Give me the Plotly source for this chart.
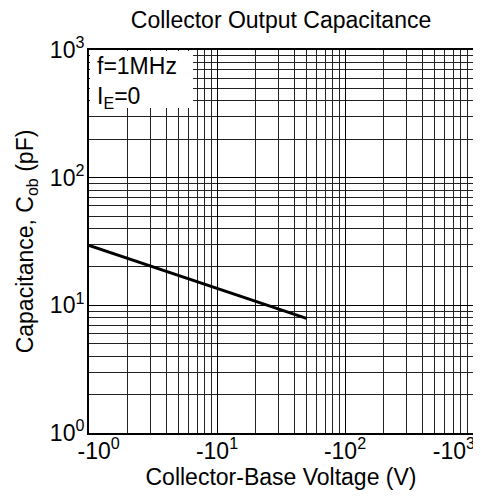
import plotly.graph_objects as go

voltage = [1, 50]            # magnitude of collector-base voltage (V), plotted as negative labels
capacitance = [29.5, 7.9]    # pF

x_tickvals = [1, 10, 100, 1000]
x_ticktext = ["&nbsp;&nbsp;&nbsp;-10<sup>0</sup>", "-10<sup>1</sup>", "-10<sup>2</sup>",
              "-10<sup>3</sup>&nbsp;&nbsp;&nbsp;&nbsp;&nbsp;&nbsp;"]
y_tickvals = [1, 10, 100, 1000]
y_ticktext = ["10<sup>0</sup>", "10<sup>1</sup>", "10<sup>2</sup>", "10<sup>3</sup>"]

FS = 23
font = "Liberation Sans, Arial, sans-serif"
W, H = 473, 492

fig = go.Figure()
fig.add_trace(go.Scatter(x=voltage, y=capacitance, mode="lines",
                         line=dict(color="black", width=3), showlegend=False))

axis_common = dict(
    type="log", showline=True, linecolor="black", linewidth=2, mirror=True,
    showgrid=True, gridcolor="black", gridwidth=1.3,
    ticks="", tickfont=dict(size=FS, color="black", family=font),
    minor=dict(showgrid=True, gridcolor="#222", gridwidth=1, dtick="D1"),
    zeroline=False, automargin=False, ticklabeloverflow="allow",
)
fig.update_xaxes(range=[-0.0001, 3.0001], tickvals=x_tickvals, ticktext=x_ticktext,
                 ticklabelstandoff=-4,
                 title=dict(text="Collector-Base Voltage (V)", font=dict(size=FS, color="black", family=font), standoff=3),
                 **axis_common)
fig.update_yaxes(range=[-0.0001, 3.0001], tickvals=y_tickvals, ticktext=y_ticktext,
                 ticklabelstandoff=-2,
                 title=dict(text="Capacitance, C<sub>ob</sub> (pF)", font=dict(size=FS, color="black", family=font), standoff=10),
                 **axis_common)

# white box behind the condition text
fig.add_shape(type="rect", xref="paper", yref="paper", xsizemode="pixel", ysizemode="pixel",
              xanchor=0, yanchor=1, x0=1, x1=104, y0=-1, y1=-58,
              fillcolor="white", line=dict(width=0), layer="above")
fig.add_annotation(xref="paper", yref="paper", x=0, y=1, xanchor="left", yanchor="top",
                   xshift=6, yshift=-1,
                   text="f=1MHz<br>I<sub>E</sub>=0", showarrow=False, align="left",
                   font=dict(size=FS, color="black", family=font))

fig.update_layout(
    width=W, height=H,
    margin=dict(l=81, r=8, t=42, b=67),
    paper_bgcolor="white", plot_bgcolor="white",
    title=dict(text="Collector Output Capacitance", x=0.5, xref="paper", xanchor="center",
               y=1 - 12 / H, yref="container", yanchor="middle",
               font=dict(size=FS, color="black", family=font)),
)
fig.write_html("out.html")
